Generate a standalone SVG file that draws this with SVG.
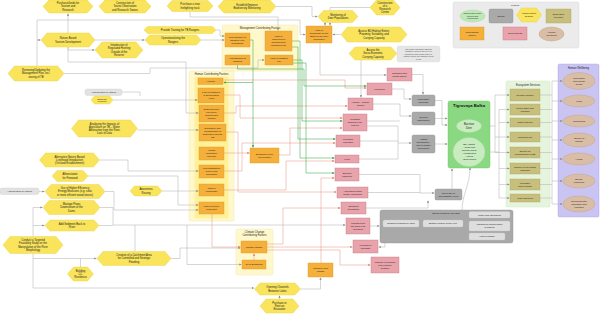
<svg xmlns="http://www.w3.org/2000/svg" width="600" height="314" viewBox="0 0 600 314">
<style>
.hex{fill:#f9e45c;stroke:#ecd23a;stroke-width:.4}
.or{fill:#f4b03a;stroke:#e2991e;stroke-width:.4}
.pk{fill:#e8a3ab;stroke:#c97683;stroke-width:.4}
.st{fill:#a9a9a9;stroke:#939393;stroke-width:.4}
.stl{fill:#dedede;stroke:#c4c4c4;stroke-width:.3}
.es{fill:#c9bf7d;stroke:#b1a760;stroke-width:.4}
.hw{fill:#d9bda5;stroke:#c09f86;stroke-width:.4}
.grp{fill:#fff8cc;stroke:#f1e59a;stroke-width:.4}
.grpi{fill:#fff09a;stroke:none}
.oth{fill:#e2e2e2;stroke:#c8c8c8;stroke-width:.3}
.t{font-family:"Liberation Sans",Arial,sans-serif;font-size:2.7px;fill:#222;text-anchor:middle}
.ts{font-family:"Liberation Sans",Arial,sans-serif;font-size:2.4px;fill:#222;text-anchor:middle}
.tn{font-family:"Liberation Sans",Arial,sans-serif;font-size:2.1px;fill:#444;text-anchor:middle}
.tb{font-family:"Liberation Sans",Arial,sans-serif;font-size:4.2px;font-weight:bold;fill:#111;text-anchor:middle}
.cg{fill:none;stroke:#b3b3b3;stroke-width:.55}
.cs{fill:none;stroke:#e79a88;stroke-width:.55}
.cn{fill:none;stroke:#3aa848;stroke-width:.55}
.ag{marker-end:url(#mg)}
.as{marker-end:url(#ms)}
.an{marker-end:url(#mn)}
</style>
<defs>
<marker id="mg" viewBox="0 0 6 6" refX="6" refY="3" markerWidth="2.2" markerHeight="2.2" markerUnits="userSpaceOnUse" orient="auto"><path d="M0,0 L6,3 L0,6z" fill="#858585"/></marker>
<marker id="ms" viewBox="0 0 6 6" refX="6" refY="3" markerWidth="2.2" markerHeight="2.2" markerUnits="userSpaceOnUse" orient="auto"><path d="M0,0 L6,3 L0,6z" fill="#d8735c"/></marker>
<marker id="mn" viewBox="0 0 6 6" refX="6" refY="3" markerWidth="2.2" markerHeight="2.2" markerUnits="userSpaceOnUse" orient="auto"><path d="M0,0 L6,3 L0,6z" fill="#2b8f37"/></marker>
</defs>
<rect width="600" height="314" fill="#ffffff"/>

<!-- groups / containers -->
<g id="grp-management">
<rect class="grp" x="222" y="25" width="76" height="46" rx="1.5"/>
<text class="t" x="260" y="29.2">Management Contributing Factors</text>
</g>
<g id="grp-human">
<rect class="grp" x="189" y="71" width="45" height="150" rx="1.5"/>
<rect class="grpi" x="194.5" y="76.5" width="34" height="142"/>
<text class="t" x="211.5" y="75">Human Contributing Factors</text>
</g>
<g id="grp-climate">
<rect class="grp" x="236" y="229" width="37" height="46" rx="1.5"/>
<text class="t" x="254.5" y="232.6"><tspan x="254.5">Climate Change</tspan><tspan x="254.5" dy="3.1">Contributing Factors</tspan></text>
</g>
<g id="grp-ecosystem-services">
<rect x="506" y="81" width="44" height="126" rx="1.5" fill="#e6f4de" stroke="#c6e4b8" stroke-width=".4"/>
<text class="t" x="528" y="85.6">Ecosystem Services</text>
</g>
<g id="grp-human-wellbeing">
<rect x="558" y="64" width="41" height="153" rx="1.5" fill="#c9c4f2" stroke="#a69ee6" stroke-width=".4"/>
<text class="t" x="578.5" y="68.6">Human Wellbeing</text>
</g>

<!-- connectors -->
<g id="connectors">
<path class="cg ag" d="M68,33 V13.5"/>
<path class="cg ag" d="M37,66 V20 H300 V34.5 H305.5"/>
<path class="cg ag" d="M37,40 H40.5"/>
<path class="cg ag" d="M95,40 H144.5"/>
<path class="cg ag" d="M68,47 V50 H94.5"/>
<path class="cg ag" d="M68,47 V62 H186 V113 H198.5"/>
<path class="cg ag" d="M64,73.5 H150 V68 H258 V60 H264.5"/>
<path class="cg ag" d="M216,30 H220 V36 H224.5"/>
<path class="cg ag" d="M201,40 H224.5"/>
<path class="cg ag" d="M190,11.5 V17 H278 V30.5"/>
<path class="cg ag" d="M276,6.5 H312 V16.5 H317.5"/>
<path class="cg ag" d="M325,22.5 V25.5"/>
<path class="cg ag" d="M370,7.5 H330 V25.5"/>
<path class="cg ag" d="M341,34.5 H332.5"/>
<path class="cg ag" d="M361,60 V97.5"/>
<path class="cg ag" d="M113,100 H197.5"/>
<path class="cg" d="M122,92 H140 V96"/>
<path class="cg ag" d="M137.5,130 H198.5"/>
<path class="cg ag" d="M99.5,160 H128 V171 H198.5"/>
<path class="cg ag" d="M88,176 H178 V205 H198.5"/>
<path class="cg ag" d="M105,191.5 H114 V210 H198.5"/>
<path class="cg ag" d="M39,191.5 H44.5"/>
<path class="cg ag" d="M162,191 H198.5"/>
<path class="cg ag" d="M100,207.5 H113 V225 H345.5"/>
<path class="cg" d="M99,225.5 H113"/>
<path class="cg" d="M135,251.5 V225"/>
<path class="cg ag" d="M33,236.5 V207.5 H42.5"/>
<path class="cg ag" d="M33,225.5 H44.5"/>
<path class="cg ag" d="M33,253.5 V258.5 H96.5"/>
<path class="cg ag" d="M33,258.5 V288 H254"/>
<path class="cg" d="M80.5,267 V258.5"/>
<path class="cg ag" d="M171,258.5 H180 V248 H240.5"/>
<path class="cg ag" d="M187,225 V264.5 H241.5"/>
<path class="cg ag" d="M279.5,299 V295.5"/>
<path class="cg ag" d="M300.5,289 H320.5 V277.5"/>
<path class="cg ag" d="M320,43 V75 H386.5"/>
<!-- salmon: contributing factors to threats -->
<path class="cs as" d="M321,263 V178 H334.5"/>
<path class="cs as" d="M223,80 H345 V88 H366.5"/>
<path class="cs as" d="M224,95 H240 V118 H342.5"/>
<path class="cs as" d="M224,113 H236 V106 H347.5"/>
<path class="cs as" d="M226,132 H238 V192 H336.5"/>
<path class="cs as" d="M224,153 H249.5"/>
<path class="cs as" d="M224,171 H242 V143 H335.5"/>
<path class="cs as" d="M224,190 H286 V161 H334.5"/>
<path class="cs as" d="M212,214 V247 H240.5"/>
<path class="cs as" d="M267,247 H352.5"/>
<path class="cs as" d="M267,250 H340 V265 H370.5"/>
<path class="cs as" d="M254,260 V253.5"/>
<path class="cs as" d="M279,155 H290 V128 H342.5"/>
<path class="cs as" d="M267,244 H283 V208 H340.5"/>
<!-- green: management factors to threats -->
<path class="cn an" d="M250,40 H253 V147.5"/>
<path class="cn an" d="M292,41 H300 V158 H334.5"/>
<path class="cn an" d="M237.5,65 V69 H304 V86 H366.5"/>
<path class="cn an" d="M293,60 H302 V121 H342.5"/>
<path class="cn an" d="M292,47 H298 V139 H335.5"/>
<path class="cn an" d="M293,63 H306 V173 H334.5"/>
<path class="cn an" d="M253,82.5 H223.5"/>
<!-- threats to stresses -->
<path class="cg ag" d="M412,74.5 H423 V94.5"/>
<path class="cg ag" d="M392,89 H404 V99 H411.5"/>
<path class="cg ag" d="M373,104 H400 V116 H411.5"/>
<path class="cg" d="M367,121 H400"/>
<path class="cg ag" d="M367,126 H398 V143 H411.5"/>
<path class="cg" d="M360,141 H398"/>
<path class="cg" d="M359,159 H398 V143"/>
<path class="cg ag" d="M359,174.5 H420 V193 H434.5"/>
<path class="cg" d="M368,192.5 H420"/>
<path class="cg ag" d="M366,208 H428 V200.5"/>
<path class="cg ag" d="M370,226 H379.5"/>
<path class="cg ag" d="M385,243 V247 H378.5"/>
<!-- stresses to target -->
<path class="cg ag" d="M435,100.5 H442 V125 H447.5"/>
<path class="cg ag" d="M435,118.5 H447.5"/>
<path class="cg ag" d="M435,144 H447.5"/>
<path class="cg ag" d="M462,210 C462,195 470,185 470,167.5"/>
<path class="cg ag" d="M452,189 V168.5"/>
<!-- target to ecosystem services -->
<path class="cg" d="M481.5,126 H495 M495,95 V152.5"/>
<path class="cg ag" d="M495,95 H509.5"/>
<path class="cg ag" d="M495,137 H509.5"/>
<path class="cg ag" d="M495,152.5 H509.5"/>
<path class="cg" d="M485,152 H499 M499,109.5 V198"/>
<path class="cg ag" d="M499,109.5 H509.5"/>
<path class="cg ag" d="M499,122.5 H509.5"/>
<path class="cg ag" d="M499,168.5 H509.5"/>
<path class="cg ag" d="M499,184.5 H509.5"/>
<path class="cg ag" d="M499,198 H509.5"/>
<!-- ecosystem services to wellbeing -->
<path class="cg" d="M552,81 V204 M540,95 H552 M540,109.5 H552 M540,122.5 H552 M540,137 H552 M540,152.5 H552 M540,168.5 H552 M540,184.5 H552 M540,198 H552"/>
<path class="cg ag" d="M552,81 H562.5"/>
<path class="cg ag" d="M552,101 H562.5"/>
<path class="cg ag" d="M552,121 H562.5"/>
<path class="cg ag" d="M552,140 H562.5"/>
<path class="cg ag" d="M552,159 H562.5"/>
<path class="cg ag" d="M552,181 H562.5"/>
<path class="cg ag" d="M552,204 H562.5"/>
</g>

<!-- legend -->
<g id="legend">
<rect x="453" y="2" width="126" height="46" rx="2" fill="#ebebeb" stroke="#d0d0d0" stroke-width=".4"/>
<text class="ts" x="515" y="6.3">Legend</text>
<ellipse cx="472.5" cy="16" rx="12.5" ry="6" fill="#bfe8b8" stroke="#9fd394" stroke-width=".4"/>
<text class="ts" x="472.5" y="14.2" style="font-size:2.1px"><tspan x="472.5">Conservation target</tspan><tspan x="472.5" dy="2.6">species and</tspan><tspan x="472.5" dy="2.6">ecosystems</tspan></text>
<rect class="st" x="489" y="9" width="24" height="14" rx="1.5"/>
<text class="ts" x="501" y="16.9">Stress</text>
<polygon class="hex" points="516.5,15 521.5,8 536.5,8 541.5,15 536.5,22 521.5,22"/>
<text class="ts" x="529" y="14.4"><tspan x="529">Conservation</tspan><tspan x="529" dy="2.9">strategy</tspan></text>
<rect class="es" x="546" y="9" width="25" height="14"/>
<text class="ts" x="558.5" y="15.4"><tspan x="558.5">Ecosystem</tspan><tspan x="558.5" dy="2.9">services</tspan></text>
<rect class="or" x="460" y="27" width="24" height="13"/>
<text class="ts" x="472" y="32.9"><tspan x="472">Contributing</tspan><tspan x="472" dy="2.9">factors</tspan></text>
<rect class="pk" x="503" y="27" width="24" height="13"/>
<text class="ts" x="515" y="34.4">Direct threats</text>
<ellipse class="hw" cx="551.5" cy="34" rx="12.5" ry="7"/>
<text class="ts" x="551.5" y="33.4"><tspan x="551.5">Human</tspan><tspan x="551.5" dy="2.9">wellbeing</tspan></text>
</g>

<!-- strategies (yellow hexagons) -->
<g id="s-purchase-lands"><polygon class="hex" points="43,6.5 49,0 87,0 93,6.5 87,13 49,13"/><text class="t" x="68" y="4.35"><tspan x="68">Purchase/lands for</tspan><tspan x="68" dy="3.1">Tourism and</tspan><tspan x="68" dy="3.1">Research</tspan></text></g>
<g id="s-towers"><polygon class="hex" points="99,6.5 105,0 145,0 151,6.5 145,13 105,13"/><text class="t" x="125" y="4.35"><tspan x="125">Construction of</tspan><tspan x="125" dy="3.1">Tourist Observation</tspan><tspan x="125" dy="3.1">and Research Towers</tspan></text></g>
<g id="s-truck"><polygon class="hex" points="167,6 172,0.5 208,0.5 213,6 208,11.5 172,11.5"/><text class="t" x="190" y="5.4"><tspan x="190">Purchase a new</tspan><tspan x="190" dy="3.1">firefighting truck</tspan></text></g>
<g id="s-monitoring-bd"><polygon class="hex" points="218,6.5 224,0 270,0 276,6.5 270,13 224,13"/><text class="t" x="247" y="5.9"><tspan x="247">Establish/Improve</tspan><tspan x="247" dy="3.1">Biodiversity Monitoring</tspan></text></g>
<g id="s-research-center"><polygon class="hex" points="370,7.5 376.5,0 393.5,0 400,7.5 393.5,15 376.5,15"/><text class="t" x="385" y="3.8"><tspan x="385">Construction</tspan><tspan x="385" dy="3.1">of a</tspan><tspan x="385" dy="3.1">Research</tspan><tspan x="385" dy="3.1">Center</tspan></text></g>
<g id="s-deer-monitoring"><polygon class="hex" points="318,16.5 323.5,10.5 352.5,10.5 358,16.5 352.5,22.5 323.5,22.5"/><text class="t" x="338" y="15.9"><tspan x="338">Monitoring of</tspan><tspan x="338" dy="3.1">Deer Populations</tspan></text></g>
<g id="s-nature-tourism"><polygon class="hex" points="41,40 47,33 89,33 95,40 89,47 47,47"/><text class="t" x="68" y="39.4"><tspan x="68">Nature-Based</tspan><tspan x="68" dy="3.1">Tourism Development</tspan></text></g>
<g id="s-regulated-hunting"><polygon class="hex" points="95,50 102,42 136,42 143,50 136,58 102,58"/><text class="t" x="119" y="46.3"><tspan x="119">Introduction of</tspan><tspan x="119" dy="3.1">Regulated Hunting</tspan><tspan x="119" dy="3.1">Outside of the</tspan><tspan x="119" dy="3.1">Reserve</tspan></text></g>
<g id="s-training"><polygon class="hex" points="144,30 147.5,26.5 212.5,26.5 216,30 212.5,33.5 147.5,33.5"/><text class="t" x="180" y="30.95">Provide Training for TB Rangers</text></g>
<g id="s-operationalizing"><polygon class="hex" points="145,40 149.5,35 196.5,35 201,40 196.5,45 149.5,45"/><text class="t" x="173" y="39.4"><tspan x="173">Operationalizing the</tspan><tspan x="173" dy="3.1">Rangers</tspan></text></g>
<g id="s-assess-habitat"><polygon class="hex" points="341,34.5 347.5,27 400.5,27 407,34.5 400.5,42 347.5,42"/><text class="t" x="374" y="32.35"><tspan x="374">Assess BD Habitat Extent,</tspan><tspan x="374" dy="3.1">Proximity, Suitability, and</tspan><tspan x="374" dy="3.1">Carrying Capacity</tspan></text></g>
<g id="s-assess-socio"><polygon class="hex" points="349,53.5 355,47 391,47 397,53.5 391,60 355,60"/><text class="t" x="373" y="51.35"><tspan x="373">Assess the</tspan><tspan x="373" dy="3.1">Socio-Economic</tspan><tspan x="373" dy="3.1">Carrying Capacity</tspan></text></g>
<g id="note-socio"><rect x="397" y="46" width="43" height="16" rx="2" fill="#e6e6e6" stroke="#d2d2d2" stroke-width=".3"/><text class="tn" x="418.5" y="49.75"><tspan x="418.5">The socio-economic carrying</tspan><tspan x="418.5" dy="2.5">capacity refers to the level of</tspan><tspan x="418.5" dy="2.5">disruption that people have to</tspan><tspan x="418.5" dy="2.5">endure before the Rangers need</tspan><tspan x="418.5" dy="2.5">to act</tspan></text></g>
<g id="s-renewing-mp"><polygon class="hex" points="8,73.5 14.5,66 57.5,66 64,73.5 57.5,81 14.5,81"/><text class="t" x="36" y="71.35"><tspan x="36">Renewing/Updating the</tspan><tspan x="36" dy="3.1">Management Plan, incl.</tspan><tspan x="36" dy="3.1">zoning of TB</tspan></text></g>
<g id="others-1"><rect class="oth" x="85" y="89" width="37" height="6.5" rx="2"/><text class="ts" x="103.5" y="93.1">Actions taken by others</text></g>
<g id="s-fencing"><polygon class="hex" points="91,100 94.5,96 109.5,96 113,100 109.5,104 94.5,104"/><text class="ts" x="102" y="99.6"><tspan x="102">Strategic</tspan><tspan x="102" dy="2.7">Fencing</tspan></text></g>
<g id="s-analysing-agri"><polygon class="hex" points="71.5,128.5 78.5,120 130.5,120 137.5,128.5 130.5,137 78.5,137"/><text class="t" x="104.5" y="124.8"><tspan x="104.5">Analysing the Impacts of</tspan><tspan x="104.5" dy="3.1">Agriculture on TB – Water</tspan><tspan x="104.5" dy="3.1">Abstraction from the River,</tspan><tspan x="104.5" dy="3.1">Lack of Data</tspan></text></g>
<g id="s-livelihood"><polygon class="hex" points="39.5,160 45.5,153 93.5,153 99.5,160 93.5,167 45.5,167"/><text class="t" x="69.5" y="157.85"><tspan x="69.5">Alternative Nature-Based</tspan><tspan x="69.5" dy="3.1">Livelihood Introduction</tspan><tspan x="69.5" dy="3.1">(Orchard Establishment)</tspan></text></g>
<g id="s-afforestation"><polygon class="hex" points="52,176 57,170.5 83,170.5 88,176 83,181.5 57,181.5"/><text class="t" x="70" y="175.4"><tspan x="70">Afforestation</tspan><tspan x="70" dy="3.1">for Firewood</tspan></text></g>
<g id="others-2"><rect class="oth" x="0" y="188" width="39" height="6.5" rx="2"/><text class="ts" x="19.5" y="192.1">Actions taken by others</text></g>
<g id="s-energy-efficiency"><polygon class="hex" points="45,191.5 51,184.5 99,184.5 105,191.5 99,198.5 51,198.5"/><text class="t" x="75" y="189.35"><tspan x="75">Use of Higher Efficiency</tspan><tspan x="75" dy="3.1">Energy Measures (e.g. solar</tspan><tspan x="75" dy="3.1">or more efficient wood stoves)</tspan></text></g>
<g id="s-awareness"><polygon class="hex" points="130,191 134.5,186 157.5,186 162,191 157.5,196 134.5,196"/><text class="t" x="146" y="190.4"><tspan x="146">Awareness</tspan><tspan x="146" dy="3.1">Raising</tspan></text></g>
<g id="s-manage-flows"><polygon class="hex" points="43,207.5 49,200.5 94,200.5 100,207.5 94,214.5 49,214.5"/><text class="t" x="71.5" y="205.35"><tspan x="71.5">Manage Flows</tspan><tspan x="71.5" dy="3.1">Downstream of the</tspan><tspan x="71.5" dy="3.1">Dams</tspan></text></g>
<g id="s-add-sediment"><polygon class="hex" points="45,225.5 50,220 94,220 99,225.5 94,231 50,231"/><text class="t" x="72" y="224.9"><tspan x="72">Add Sediment Back to</tspan><tspan x="72" dy="3.1">River</tspan></text></g>
<g id="s-feasibility"><polygon class="hex" points="3,245 10,236.5 56,236.5 63,245 56,253.5 10,253.5"/><text class="t" x="33" y="241.3"><tspan x="33">Conduct a Targeted</tspan><tspan x="33" dy="3.1">Feasibility Study on the</tspan><tspan x="33" dy="3.1">Manipulation of the River</tspan><tspan x="33" dy="3.1">Morphology</tspan></text></g>
<g id="s-catchment"><polygon class="hex" points="97,258.5 103,251.5 165,251.5 171,258.5 165,265.5 103,265.5"/><text class="t" x="134" y="256.35"><tspan x="134">Creation of a Catchment Area</tspan><tspan x="134" dy="3.1">for Controlled and Strategic</tspan><tspan x="134" dy="3.1">Flooding</tspan></text></g>
<g id="s-cc-resilience"><polygon class="hex" points="67.5,274 73.5,267 87.5,267 93.5,274 87.5,281 73.5,281"/><text class="t" x="80.5" y="271.85"><tspan x="80.5">Building</tspan><tspan x="80.5" dy="3.1">CC</tspan><tspan x="80.5" dy="3.1">Resilience</tspan></text></g>
<g id="s-opening-channels"><polygon class="hex" points="254.5,289 260,283 295,283 300.5,289 295,295 260,295"/><text class="t" x="277.5" y="288.4"><tspan x="277.5">Opening Channels</tspan><tspan x="277.5" dy="3.1">Between Lakes</tspan></text></g>
<g id="s-excavator"><polygon class="hex" points="260,306 266,299 293,299 299,306 293,313 266,313"/><text class="t" x="279.5" y="303.85"><tspan x="279.5">Purchase or</tspan><tspan x="279.5" dy="3.1">Rent an</tspan><tspan x="279.5" dy="3.1">Excavator</tspan></text></g>

<!-- contributing factors (orange) -->
<g id="f-low-capacity"><rect class="or" x="225" y="33" width="25" height="14"/><text class="ts" x="237.5" y="37.85"><tspan x="237.5">Low Capacity of</tspan><tspan x="237.5" dy="3">Rangers (incl.</tspan><tspan x="237.5" dy="3">firefighting)</tspan></text></g>
<g id="f-lack-resources"><rect class="or" x="265" y="31" width="27" height="20"/><text class="ts" x="278.5" y="37.3"><tspan x="278.5">Lack of</tspan><tspan x="278.5" dy="3">resources of</tspan><tspan x="278.5" dy="3">management</tspan><tspan x="278.5" dy="3">equipment etc</tspan></text></g>
<g id="f-low-salaries"><rect class="or" x="225" y="55" width="25" height="10"/><text class="ts" x="237.5" y="59.4"><tspan x="237.5">Low Salaries of</tspan><tspan x="237.5" dy="3">Rangers</tspan></text></g>
<g id="f-lack-mp"><rect class="or" x="265" y="55" width="28" height="10"/><text class="ts" x="279" y="59.4"><tspan x="279">Lack of updated</tspan><tspan x="279" dy="3">MP</tspan></text></g>
<g id="f-lack-knowledge-deer"><rect class="or" x="306" y="26" width="26" height="17"/><text class="ts" x="319" y="30.8"><tspan x="319">Lack of</tspan><tspan x="319" dy="3">knowledge on the</tspan><tspan x="319" dy="3">status of the deer</tspan><tspan x="319" dy="3">population</tspan></text></g>
<g id="f-hunting"><rect class="or" x="198" y="78" width="25" height="6.5"/><text class="ts" x="210.5" y="82.1">Hunting</text></g>
<g id="f-lack-pastures"><rect class="or" x="198" y="88" width="26" height="15"/><text class="ts" x="211" y="93.35"><tspan x="211">Lack of Pastures</tspan><tspan x="211" dy="3">in Surrounding</tspan><tspan x="211" dy="3">Areas</tspan></text></g>
<g id="f-buffer-zone"><rect class="or" x="199" y="105" width="25" height="17"/><text class="ts" x="211.5" y="109.8"><tspan x="211.5">Buffering zone</tspan><tspan x="211.5" dy="3">not clearly</tspan><tspan x="211.5" dy="3">defined and</tspan><tspan x="211.5" dy="3">growed</tspan></text></g>
<g id="f-agri-expansion"><rect class="or" x="199" y="124" width="27" height="17"/><text class="ts" x="212.5" y="128.8"><tspan x="212.5">Expansion and</tspan><tspan x="212.5" dy="3">intensification of</tspan><tspan x="212.5" dy="3">agriculture around</tspan><tspan x="212.5" dy="3">TB</tspan></text></g>
<g id="f-population"><rect class="or" x="199" y="147" width="25" height="13"/><text class="ts" x="211.5" y="151.35"><tspan x="211.5">Human</tspan><tspan x="211.5" dy="3">population</tspan><tspan x="211.5" dy="3">increase</tspan></text></g>
<g id="f-living-standard"><rect class="or" x="199" y="165" width="25" height="13"/><text class="ts" x="211.5" y="169.35"><tspan x="211.5">Low standard of</tspan><tspan x="211.5" dy="3">living of the</tspan><tspan x="211.5" dy="3">population</tspan></text></g>
<g id="f-lack-knowledge"><rect class="or" x="199" y="184" width="25" height="12"/><text class="ts" x="211.5" y="189.4"><tspan x="211.5">Lack of</tspan><tspan x="211.5" dy="3">knowledge</tspan></text></g>
<g id="f-lack-energy"><rect class="or" x="199" y="202" width="25" height="12"/><text class="ts" x="211.5" y="207.4"><tspan x="211.5">Lack of energy</tspan><tspan x="211.5" dy="3">resources</tspan></text></g>
<g id="f-browsing"><rect class="or" x="250" y="148" width="29" height="15"/><text class="ts" x="264.5" y="154.9"><tspan x="264.5">Browsing of tree</tspan><tspan x="264.5" dy="3">rejuvenation</tspan></text></g>
<g id="f-climate-change"><rect class="or" x="241" y="241" width="26" height="12"/><text class="ts" x="254" y="247.95">Climate change</text></g>
<g id="f-ghg"><rect class="or" x="242" y="260" width="24" height="9"/><text class="ts" x="254" y="265.45">GHG Emissions</text></g>
<g id="f-reed"><rect class="or" x="308" y="263" width="25" height="14"/><text class="ts" x="320.5" y="269.4"><tspan x="320.5">Intensive reed</tspan><tspan x="320.5" dy="3">growth</tspan></text></g>

<!-- direct threats (pink) -->
<g id="t-diseases"><rect class="pk" x="387" y="68" width="25" height="13"/><text class="ts" x="399.5" y="73.9"><tspan x="399.5">Diseases and</tspan><tspan x="399.5" dy="3">health issues</tspan></text></g>
<g id="t-poaching"><rect class="pk" x="367" y="83" width="25" height="12"/><text class="ts" x="379.5" y="89.95">Poaching</text></g>
<g id="t-hwc"><rect class="pk" x="348" y="98" width="25" height="12"/><text class="ts" x="360.5" y="103.4"><tspan x="360.5">Human - Wildlife</tspan><tspan x="360.5" dy="3">conflict</tspan></text></g>
<g id="t-livestock"><rect class="pk" x="343" y="114" width="24" height="17"/><text class="ts" x="355" y="120.35"><tspan x="355">Livestock</tspan><tspan x="355" dy="3">grazing in the</tspan><tspan x="355" dy="3">reserve</tspan></text></g>
<g id="t-firewood"><rect class="pk" x="336" y="135" width="24" height="12"/><text class="ts" x="348" y="140.4"><tspan x="348">Firewood</tspan><tspan x="348" dy="3">collection</tspan></text></g>
<g id="t-fires"><rect class="pk" x="335" y="155" width="24" height="8"/><text class="ts" x="347" y="159.95">Fires</text></g>
<g id="t-blocked"><rect class="pk" x="335" y="168" width="24" height="13"/><text class="ts" x="347" y="173.9"><tspan x="347">Blocked</tspan><tspan x="347" dy="3">channels</tspan></text></g>
<g id="t-agri-fields"><rect class="pk" x="337" y="187" width="31" height="11"/><text class="ts" x="352.5" y="191.9"><tspan x="352.5">Agricultural fields</tspan><tspan x="352.5" dy="3">(pests, chemicals)</tspan></text></g>
<g id="t-sediment"><rect class="pk" x="341" y="202" width="25" height="12"/><text class="ts" x="353.5" y="207.4"><tspan x="353.5">Sediment</tspan><tspan x="353.5" dy="3">Deposition</tspan></text></g>
<g id="t-dam"><rect class="pk" x="346" y="218" width="24" height="16"/><text class="ts" x="358" y="223.85"><tspan x="358">Impacts from</tspan><tspan x="358" dy="3">the Dam &amp; its</tspan><tspan x="358" dy="3">operation</tspan></text></g>
<g id="t-flooding"><rect class="pk" x="353" y="240" width="25" height="13"/><text class="ts" x="365.5" y="245.9"><tspan x="365.5">Flooding or</tspan><tspan x="365.5" dy="3">droughts</tspan></text></g>
<g id="t-seasons"><rect class="pk" x="371" y="257" width="28" height="16"/><text class="ts" x="385" y="262.85"><tspan x="385">Change in seasons</tspan><tspan x="385" dy="3">and extreme</tspan><tspan x="385" dy="3">weather</tspan></text></g>

<!-- stresses (gray) -->
<g id="st-population"><rect class="st" x="412" y="95" width="23" height="11" rx="1.5"/><text class="ts" x="423.5" y="99.9"><tspan x="423.5">Population</tspan><tspan x="423.5" dy="3">decrease</tspan></text></g>
<g id="st-disturbance"><rect class="st" x="412" y="112" width="23" height="13" rx="1.5"/><text class="ts" x="423.5" y="117.9"><tspan x="423.5">General</tspan><tspan x="423.5" dy="3">disturbance</tspan></text></g>
<g id="st-habitat"><rect class="st" x="412" y="135" width="23" height="18" rx="1.5"/><text class="ts" x="423.5" y="140.3"><tspan x="423.5">Habitat</tspan><tspan x="423.5" dy="3">degradation -</tspan><tspan x="423.5" dy="3">lack of fodder</tspan><tspan x="423.5" dy="3">and shelter</tspan></text></g>
<g id="st-groundwater"><rect class="st" x="435" y="189" width="27" height="11" rx="1.5"/><text class="ts" x="448.5" y="193.9"><tspan x="448.5">Decrease of</tspan><tspan x="448.5" dy="3">Groundwater Level</tspan></text></g>
<g id="st-dam">
<rect class="st" x="380" y="210" width="133" height="33" rx="2"/>
<text class="ts" x="446" y="213.6">Stress caused by the dam</text>
<rect class="stl" x="383" y="220" width="36" height="7" rx="1.5"/><text class="ts" x="401" y="224.4">Sediment trapped by dam</text>
<rect class="stl" x="423" y="220" width="40" height="7" rx="1.5"/><text class="ts" x="443" y="224.4">Bottom erosion of the river</text>
<rect class="stl" x="469" y="211.5" width="41" height="6.5" rx="1.5"/><text class="ts" x="489.5" y="215.6">Water flow alterations</text>
<rect class="stl" x="469" y="221" width="41" height="10" rx="1.5"/><text class="ts" x="489.5" y="225.4"><tspan x="489.5">Insufficient natural water</tspan><tspan x="489.5" dy="2.9">dynamics</tspan></text>
<rect class="stl" x="469" y="233" width="36" height="7" rx="1.5"/><text class="ts" x="487" y="237.4">Lack of floods</text>
</g>

<!-- conservation target -->
<g id="target-tigrovaya-balka">
<rect x="448" y="101" width="42" height="67" rx="2" fill="#8ad882" stroke="#6cc463" stroke-width=".4"/>
<text class="tb" x="469" y="107.2">Tigrovaya Balka</text>
<ellipse cx="469" cy="126" rx="12.5" ry="6.5" fill="#c8ecc0" stroke="#a6d99c" stroke-width=".3"/>
<text class="t" x="469" y="125.4"><tspan x="469">Bactrian</tspan><tspan x="469" dy="3.1">Deer</tspan></text>
<ellipse cx="469" cy="152" rx="16" ry="14.5" fill="#c8ecc0" stroke="#a6d99c" stroke-width=".3"/>
<text class="ts" x="469" y="145.4"><tspan x="469">BD Habitat</tspan><tspan x="469" dy="2.9">- Tugai and</tspan><tspan x="469" dy="2.9">riparian forest</tspan><tspan x="469" dy="2.9">- Floodplains</tspan><tspan x="469" dy="2.9">- Lakes</tspan><tspan x="469" dy="2.9">- Semi-desert</tspan></text>
</g>

<!-- ecosystem services -->
<g id="es-tourism"><rect class="es" x="510" y="89" width="30" height="12"/><text class="ts" x="525" y="95.9">Tourism location</text></g>
<g id="es-water"><rect class="es" x="510" y="104" width="30" height="11"/><text class="ts" x="525" y="108.9"><tspan x="525">Clean water and</tspan><tspan x="525" dy="3">irrigation</tspan></text></g>
<g id="es-timber"><rect class="es" x="510" y="118" width="30" height="9"/><text class="ts" x="525" y="123.4">Timber Source</text></g>
<g id="es-research"><rect class="es" x="510" y="132" width="30" height="10"/><text class="ts" x="525" y="137.9">Research site</text></g>
<g id="es-reintroduction"><rect class="es" x="510" y="147" width="30" height="11"/><text class="ts" x="525" y="151.9"><tspan x="525">Source for</tspan><tspan x="525" dy="3">reintroduction of BD</tspan></text></g>
<g id="es-nonwood"><rect class="es" x="510" y="163" width="30" height="11"/><text class="ts" x="525" y="167.9"><tspan x="525">Source of non-wood</tspan><tspan x="525" dy="3">materials</tspan></text></g>
<g id="es-microclimate"><rect class="es" x="510" y="179" width="30" height="11"/><text class="ts" x="525" y="183.9"><tspan x="525">Favorable</tspan><tspan x="525" dy="3">micro-climate</tspan></text></g>
<g id="es-fish"><rect class="es" x="510" y="194" width="30" height="8"/><text class="ts" x="525" y="198.9">Fish resources</text></g>

<!-- human wellbeing -->
<g id="hw-recreation"><ellipse class="hw" cx="579" cy="81" rx="16" ry="8.5"/><text class="ts" x="579" y="78.9"><tspan x="579">Recreation</tspan><tspan x="579" dy="3">and mental</tspan><tspan x="579" dy="3">health</tspan></text></g>
<g id="hw-food"><ellipse class="hw" cx="579" cy="101" rx="16" ry="6"/><text class="ts" x="579" y="101.9">Food</text></g>
<g id="hw-workplaces"><ellipse class="hw" cx="579" cy="121" rx="16" ry="6"/><text class="ts" x="579" y="121.9">Workplaces</text></g>
<g id="hw-income"><ellipse class="hw" cx="579" cy="140" rx="16" ry="7"/><text class="ts" x="579" y="139.4"><tspan x="579">Source of</tspan><tspan x="579" dy="3">income</tspan></text></g>
<g id="hw-health"><ellipse class="hw" cx="579" cy="159" rx="16" ry="6"/><text class="ts" x="579" y="159.9">Health</text></g>
<g id="hw-energy"><ellipse class="hw" cx="579" cy="181" rx="16" ry="7"/><text class="ts" x="579" y="180.4"><tspan x="579">Energy</tspan><tspan x="579" dy="3">resources</tspan></text></g>
<g id="hw-education"><ellipse class="hw" cx="579" cy="204" rx="16" ry="8"/><text class="ts" x="579" y="201.9"><tspan x="579">Environmental</tspan><tspan x="579" dy="3">education and</tspan><tspan x="579" dy="3">research</tspan></text></g>
</svg>
